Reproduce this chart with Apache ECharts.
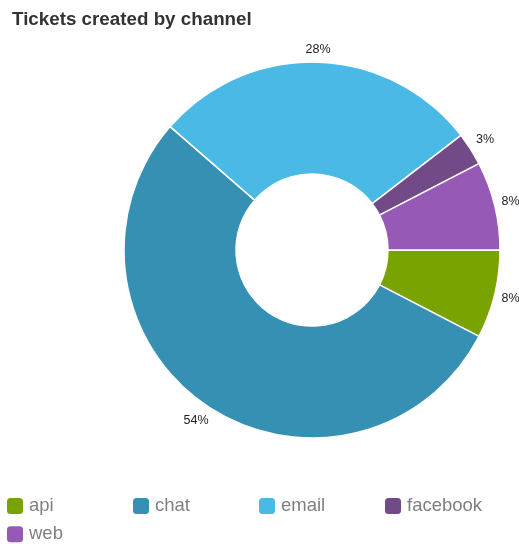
<!DOCTYPE html>
<html>
<head>
<meta charset="utf-8">
<script src="https://cdn.jsdelivr.net/npm/echarts@6/dist/echarts.min.js"></script>
<style>
  html, body { margin: 0; padding: 0; background: #fff; }
  #chart { width: 519px; height: 544px; }
</style>
</head>
<body>
<div id="chart"></div>
<script>
// Ticket counts per channel
const channels = ['api', 'chat', 'email', 'facebook', 'web'];
const ticketCounts = [24, 170, 89, 9, 24];
const channelColors = ['#78a300', '#3690b4', '#4bb9e6', '#714a87', '#9659b5'];

const PIE_CENTER = [312, 250];
const OUTER_R = 188;
const INNER_R = 76;
const LABEL_GAP = 6;

// Legend laid out as a fixed grid of columns
const LEGEND_COLS = 4;
const LEGEND_COL_W = 126;
const LEGEND_ROW_H = 28.3;
const LEGEND_LEFT = 5;
const LEGEND_TOP = 496;

const chart = echarts.init(document.getElementById('chart'));

const pieData = channels.map((name, i) => ({
  name: name,
  value: ticketCounts[i],
  itemStyle: { color: channelColors[i] }
}));

// Mid-angle direction of each slice (start at 3 o'clock, clockwise)
const total = ticketCounts.reduce((a, b) => a + b, 0);
const midDirs = [];
let acc = 0;
ticketCounts.forEach(v => {
  const frac = (acc + v / 2) / total;
  const ang = -frac * 2 * Math.PI;
  midDirs.push([Math.cos(ang), -Math.sin(ang)]);
  acc += v;
});

// Put each percentage just outside the ring, pushed out by half its box
function placeLabel(params) {
  const d = midDirs[params.dataIndex];
  const w = params.labelRect.width;
  const h = params.labelRect.height;
  const push = OUTER_R + LABEL_GAP + Math.abs(d[0]) * w / 2 + Math.abs(d[1]) * h / 2;
  return {
    x: PIE_CENTER[0] + d[0] * push,
    y: PIE_CENTER[1] + d[1] * push,
    align: 'center',
    verticalAlign: 'middle'
  };
}

const legends = channels.map((name, i) => ({
  left: LEGEND_LEFT + (i % LEGEND_COLS) * LEGEND_COL_W,
  top: LEGEND_TOP + Math.floor(i / LEGEND_COLS) * LEGEND_ROW_H,
  padding: 0,
  itemWidth: 18,
  itemHeight: 18,
  icon: 'roundRect',
  data: [name],
  selectedMode: false,
  textStyle: {
    fontFamily: 'Liberation Sans, Arial, sans-serif',
    fontSize: 18.5,
    color: '#808080'
  }
}));

chart.setOption({
  animation: false,
  title: {
    text: 'Tickets created by channel',
    left: 7,
    top: 5,
    textStyle: {
      fontFamily: 'Liberation Sans, Arial, sans-serif',
      fontSize: 18.8,
      fontWeight: 'bold',
      color: '#333'
    }
  },
  legend: legends,
  series: [{
    type: 'pie',
    center: PIE_CENTER,
    radius: [INNER_R, OUTER_R],
    startAngle: 0,
    clockwise: true,
    avoidLabelOverlap: false,
    itemStyle: { borderColor: '#fff', borderWidth: 1.5 },
    label: {
      show: true,
      position: 'outside',
      fontFamily: 'Liberation Sans, Arial, sans-serif',
      fontSize: 12.5,
      color: '#222',
      formatter: p => Math.round(p.percent) + '%'
    },
    labelLine: { show: false, length: 0, length2: 0 },
    labelLayout: placeLabel,
    emphasis: { disabled: true },
    data: pieData
  }]
});
</script>
</body>
</html>
